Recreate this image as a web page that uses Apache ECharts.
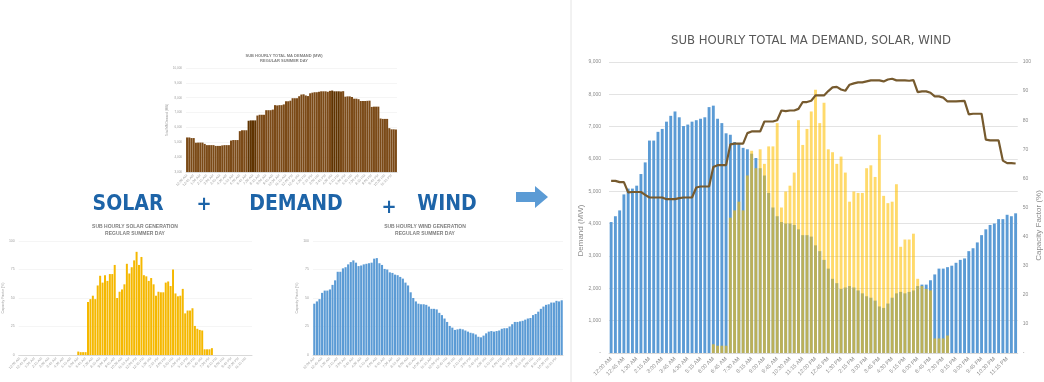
<!DOCTYPE html>
<html>
<head>
<meta charset="utf-8">
<script src="https://cdn.jsdelivr.net/npm/echarts@6/dist/echarts.min.js"></script>
<style>
html, body { margin: 0; padding: 0; background: #fff; }
#chart { width: 1044px; height: 382px; }
</style>
</head>
<body>
<div id="chart"></div>
<script>
// 15 minute steps over a summer day
var times = [
  "12:00 AM","12:15 AM","12:30 AM","12:45 AM","1:00 AM","1:15 AM","1:30 AM","1:45 AM",
  "2:00 AM","2:15 AM","2:30 AM","2:45 AM","3:00 AM","3:15 AM","3:30 AM","3:45 AM",
  "4:00 AM","4:15 AM","4:30 AM","4:45 AM","5:00 AM","5:15 AM","5:30 AM","5:45 AM",
  "6:00 AM","6:15 AM","6:30 AM","6:45 AM","7:00 AM","7:15 AM","7:30 AM","7:45 AM",
  "8:00 AM","8:15 AM","8:30 AM","8:45 AM","9:00 AM","9:15 AM","9:30 AM","9:45 AM",
  "10:00 AM","10:15 AM","10:30 AM","10:45 AM","11:00 AM","11:15 AM","11:30 AM","11:45 AM",
  "12:00 PM","12:15 PM","12:30 PM","12:45 PM","1:00 PM","1:15 PM","1:30 PM","1:45 PM",
  "2:00 PM","2:15 PM","2:30 PM","2:45 PM","3:00 PM","3:15 PM","3:30 PM","3:45 PM",
  "4:00 PM","4:15 PM","4:30 PM","4:45 PM","5:00 PM","5:15 PM","5:30 PM","5:45 PM",
  "6:00 PM","6:15 PM","6:30 PM","6:45 PM","7:00 PM","7:15 PM","7:30 PM","7:45 PM",
  "8:00 PM","8:15 PM","8:30 PM","8:45 PM","9:00 PM","9:15 PM","9:30 PM","9:45 PM",
  "10:00 PM","10:15 PM","10:30 PM","10:45 PM","11:00 PM","11:15 PM","11:30 PM","11:45 PM"
];

// total MA demand (MW)
var demand = [
  5325, 5325, 5284, 5284, 4970, 4980, 4980, 4980, 4892, 4809,
  4809, 4809, 4809, 4757, 4757, 4757, 4790, 4809, 4809, 4809,
  5118, 5150, 5150, 5150, 5750, 5810, 5810, 5810, 6450, 6475,
  6475, 6475, 6800, 6852, 6852, 6852, 7160, 7160, 7160, 7200,
  7500, 7480, 7500, 7500, 7550, 7762, 7762, 7800, 7966, 7966,
  7966, 8100, 8214, 8230, 8150, 8111, 8297, 8340, 8369, 8369,
  8400, 8431, 8431, 8431, 8400, 8460, 8483, 8431, 8431, 8431,
  8420, 8440, 8070, 8090, 8090, 8050, 7935, 7935, 7900, 7780,
  7780, 7780, 7790, 7800, 7380, 7399, 7399, 7399, 6600, 6574,
  6574, 6574, 5950, 5873, 5873, 5860
];

// solar capacity factor (%)
var solar = [
  0, 0, 0, 0, 0, 0, 0, 0, 0, 0,
  0, 0, 0, 0, 0, 0, 0, 0, 0, 0,
  0, 0, 0, 0, 3, 2.5, 2.5, 2.5, 46.5, 49,
  52, 49, 61, 69.5, 63.5, 70, 65, 71, 71, 79,
  50, 55.5, 57.5, 62, 80, 71.5, 77, 83, 90.5, 79,
  86, 70, 69, 65, 67.5, 62, 52, 55.5, 55, 55,
  63.5, 64.5, 60.5, 75, 54, 51.5, 52, 58, 36.5, 39,
  39, 41, 25.5, 23, 22, 21.5, 5, 5, 5, 6,
  0, 0, 0, 0, 0, 0, 0, 0, 0, 0,
  0, 0, 0, 0, 0, 0
];

// wind capacity factor (%)
var wind = [
  45, 47, 49, 54.5, 56.5, 56.5, 57.5, 61.5, 65.5, 73,
  73, 76, 77, 79.5, 81.5, 83, 81, 78, 78.5, 79.5,
  80, 80.5, 81, 84.5, 85, 80.5, 79, 75.5, 75, 72.5,
  72, 70.5, 70, 68.5, 67, 63.5, 61, 55, 50, 47,
  45, 44.5, 44.5, 44, 42.5, 40.5, 40.5, 40, 37, 35,
  32, 29, 25.5, 24, 22, 22.5, 23, 22.5, 21.5, 20.5,
  19.5, 19, 18, 16, 15.5, 17, 19, 20.5, 21, 20.5,
  21, 21.5, 23, 23.5, 23.5, 25, 27, 29, 29, 29.5,
  30, 31, 32, 32.5, 35, 36, 38, 40.5, 42.5, 44,
  44.5, 46, 46, 47.5, 47, 48
];

// demand bars drawn darker in the small chart (0-based)
var demandDark = [28, 29, 30, 31, 66, 67, 68, 69];

var NARROW = '"Liberation Sans Narrow", "DejaVu Sans Condensed", sans-serif';
var GREY = '#8c8c8c';
var BLUE_TEXT = '#1d64a8';

var chart = echarts.init(document.getElementById('chart'));

function smallX(grid) {
  return {
    type: 'category', gridIndex: grid, data: times,
    axisTick: { show: false },
    axisLine: { lineStyle: { color: '#d9d9d9' } },
    axisLabel: { interval: 2, rotate: 45, fontSize: 3.5, color: '#a0a0a0', margin: 3 }
  };
}

function pctY(grid, name) {
  return {
    type: 'value', gridIndex: grid, min: 0, max: 100, interval: 25,
    name: name, nameLocation: 'middle', nameGap: 11,
    nameTextStyle: { fontSize: 3.5, color: '#a0a0a0' },
    axisLabel: { fontSize: 3.5, color: '#a0a0a0', margin: 4 },
    splitLine: { lineStyle: { color: '#eeeeee', width: 0.6 } }
  };
}

function bigWord(x, y, text, size) {
  return {
    type: 'text', x: x, y: y,
    style: {
      text: text, fontFamily: NARROW, fontSize: size, fontWeight: 'bold',
      fill: BLUE_TEXT, align: 'center', verticalAlign: 'middle'
    }
  };
}

var option = {
  animation: false,
  backgroundColor: '#fff',
  title: [
    {
      text: 'SUB HOURLY TOTAL MA DEMAND, SOLAR, WIND',
      left: 811, top: 34, textAlign: 'center', padding: 0,
      textStyle: { fontFamily: NARROW, fontSize: 13, fontWeight: 'normal', color: '#595959' }
    },
    {
      text: 'SUB HOURLY TOTAL MA DEMAND (MW)\nREGULAR SUMMER DAY',
      left: 284, top: 53, textAlign: 'center', padding: 0,
      textStyle: { fontSize: 4, lineHeight: 5, fontWeight: 'bold', color: '#7f7f7f' }
    },
    {
      text: 'SUB HOURLY SOLAR GENERATION\nREGULAR SUMMER DAY',
      left: 135, top: 223, textAlign: 'center', padding: 0,
      textStyle: { fontSize: 5, lineHeight: 7, fontWeight: 'bold', color: '#7f7f7f' }
    },
    {
      text: 'SUB HOURLY WIND GENERATION\nREGULAR SUMMER DAY',
      left: 425, top: 223, textAlign: 'center', padding: 0,
      textStyle: { fontSize: 5, lineHeight: 7, fontWeight: 'bold', color: '#7f7f7f' }
    }
  ],
  grid: [
    { left: 186, top: 68, width: 211, height: 104 },
    { left: 18, top: 241, width: 234, height: 114 },
    { left: 313, top: 241, width: 250, height: 114 },
    { left: 609, top: 62, width: 410, height: 291 }
  ],
  xAxis: [
    smallX(0),
    smallX(1),
    smallX(2),
    {
      type: 'category', gridIndex: 3, data: times,
      axisTick: { show: false },
      axisLine: { lineStyle: { color: '#d9d9d9' } },
      axisLabel: { interval: 2, rotate: 45, fontSize: 5.5, color: GREY, margin: 5 }
    }
  ],
  yAxis: [
    {
      type: 'value', gridIndex: 0, min: 3000, max: 10000, interval: 1000,
      name: 'Total MA Demand (MW)', nameLocation: 'middle', nameGap: 11,
      nameTextStyle: { fontSize: 3, color: '#a0a0a0' },
      axisLabel: {
        fontSize: 3, color: '#a0a0a0', margin: 4,
        formatter: function (v) { return v.toLocaleString('en-US'); }
      },
      splitLine: { lineStyle: { color: '#eeeeee', width: 0.6 } }
    },
    pctY(1, 'Capacity Factor (%)'),
    pctY(2, 'Capacity Factor (%)'),
    {
      type: 'value', gridIndex: 3, position: 'left', min: 0, max: 9000, interval: 1000,
      name: 'Demand (MW)', nameLocation: 'middle', nameGap: 22,
      nameTextStyle: { fontSize: 8, color: GREY, padding: [0, 46, 0, 0] },
      axisLabel: {
        fontSize: 5, color: GREY, margin: 8,
        formatter: function (v) { return v === 0 ? '-' : v.toLocaleString('en-US'); }
      },
      splitLine: { lineStyle: { color: '#e3e3e3' } }
    },
    {
      type: 'value', gridIndex: 3, position: 'right', min: 0, max: 100, interval: 10,
      name: 'Capacity Factor (%)', nameLocation: 'middle', nameGap: 16,
      nameTextStyle: { fontSize: 8, color: GREY, padding: [0, 36, 0, 0] },
      axisLabel: {
        fontSize: 5, color: GREY, margin: 5,
        formatter: function (v) { return v === 0 ? '-' : v; }
      },
      splitLine: { show: false }
    }
  ],
  series: [
    {
      name: 'Demand', type: 'bar', xAxisIndex: 0, yAxisIndex: 0,
      barCategoryGap: '6%',
      itemStyle: { color: '#7b4a17' },
      data: demand.map(function (v, i) {
        return demandDark.indexOf(i) >= 0 ? { value: v, itemStyle: { color: '#5f3300' } } : v;
      })
    },
    {
      name: 'Solar', type: 'bar', xAxisIndex: 1, yAxisIndex: 1,
      barCategoryGap: '18%',
      itemStyle: { color: '#f5b800' },
      data: solar
    },
    {
      name: 'Wind', type: 'bar', xAxisIndex: 2, yAxisIndex: 2,
      barCategoryGap: '18%',
      itemStyle: { color: '#5b9bd5' },
      data: wind
    },
    {
      name: 'Wind CF', type: 'bar', xAxisIndex: 3, yAxisIndex: 4,
      itemStyle: { color: '#5b9bd5' },
      data: wind
    },
    {
      name: 'Solar CF', type: 'bar', xAxisIndex: 3, yAxisIndex: 4,
      barGap: '-100%', barCategoryGap: '32%',
      itemStyle: { color: '#ffc000', opacity: 0.58 },
      data: solar
    },
    {
      name: 'Demand MW', type: 'line', xAxisIndex: 3, yAxisIndex: 3,
      symbol: 'none', z: 5,
      lineStyle: { color: '#765a2e', width: 2.2 },
      data: demand
    }
  ],
  graphic: [
    { type: 'line', shape: { x1: 571, y1: 0, x2: 571, y2: 382 }, style: { stroke: '#e4e4e4', lineWidth: 1 } },
    bigWord(128, 205, 'SOLAR', 21),
    bigWord(204, 205, '+', 20),
    bigWord(296, 205, 'DEMAND', 21),
    bigWord(389, 208, '+', 20),
    bigWord(447, 205, 'WIND', 21),
    {
      type: 'polygon',
      shape: { points: [[516, 192], [535, 192], [535, 186], [548, 197], [535, 208], [535, 202], [516, 202]] },
      style: { fill: '#5b9bd5' }
    }
  ]
};

chart.setOption(option);
</script>
</body>
</html>
